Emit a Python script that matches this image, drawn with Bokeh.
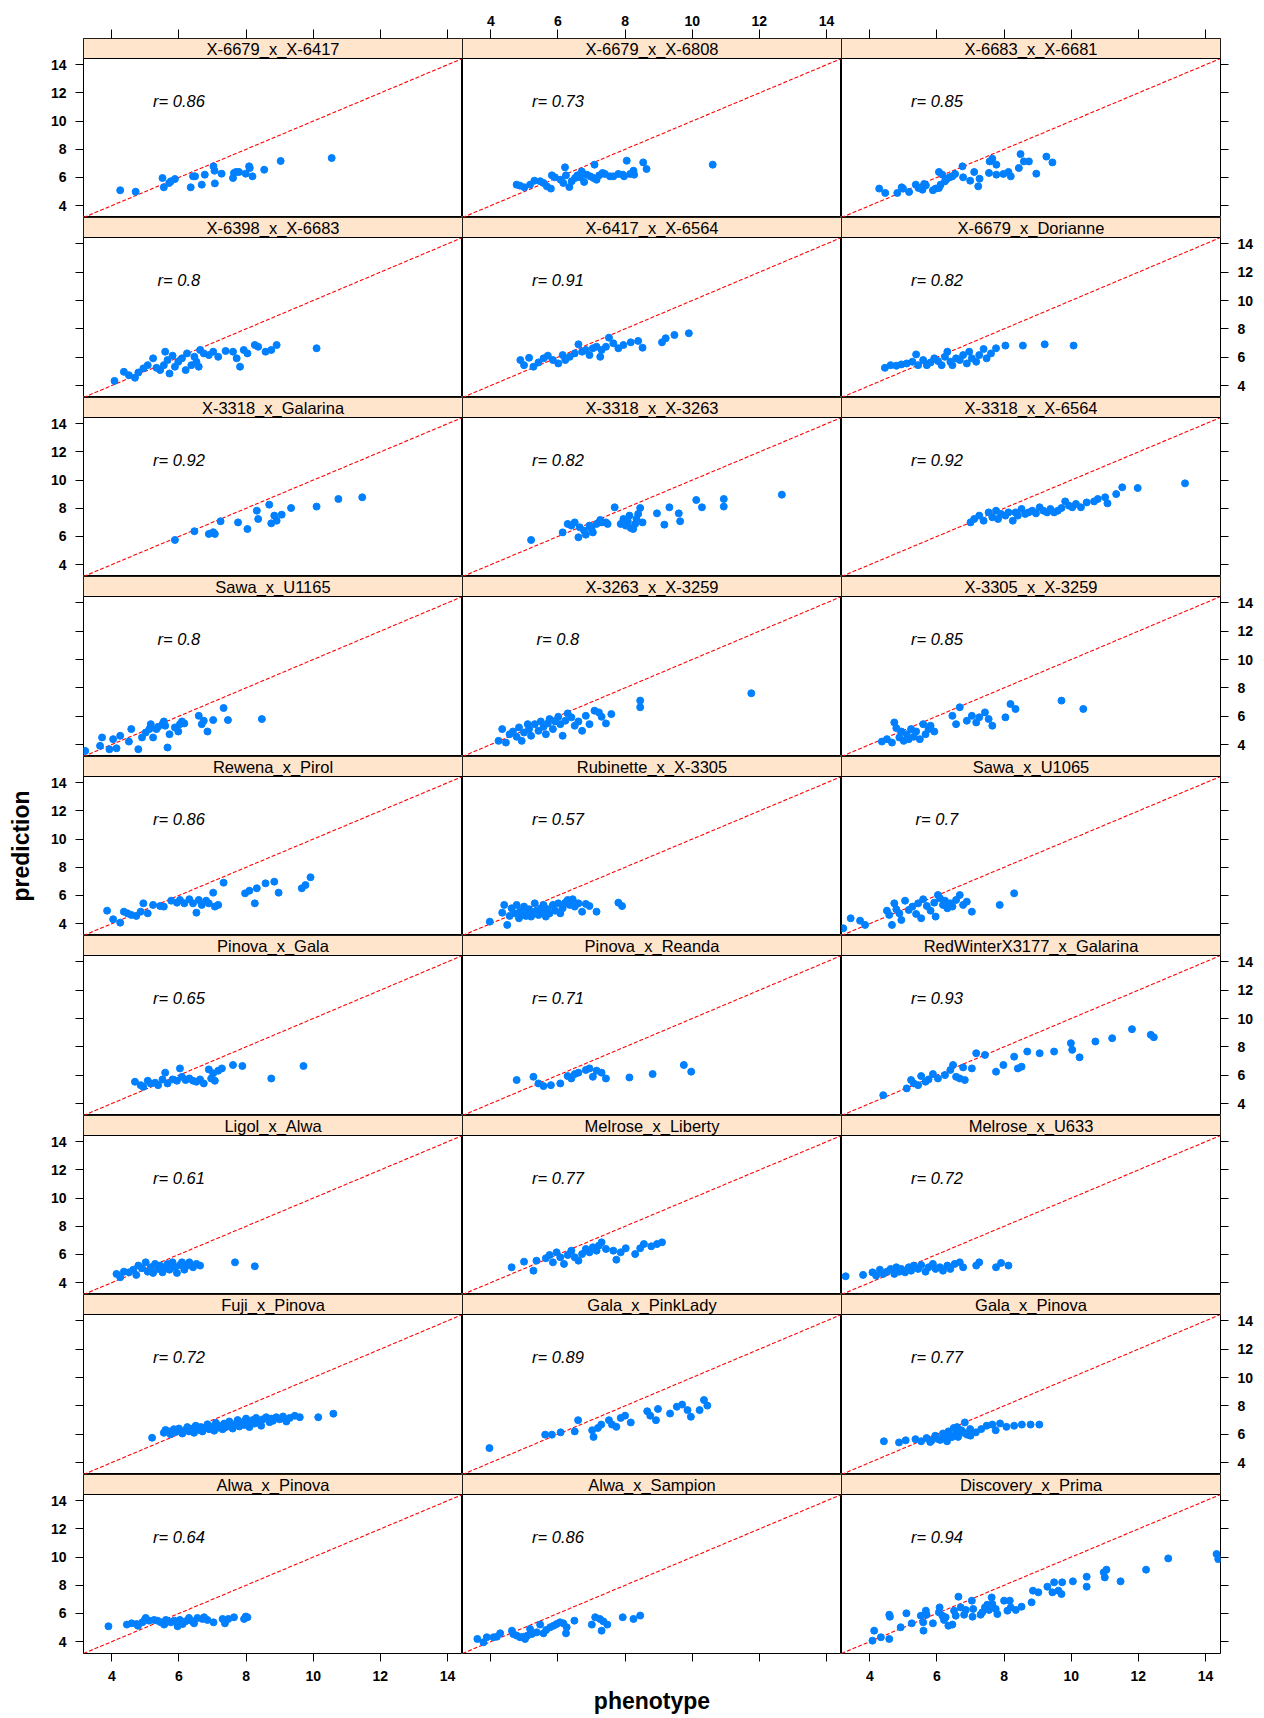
from bokeh.plotting import figure
from bokeh.layouts import column, row
from bokeh.models import LinearAxis, FixedTicker, Range1d, CustomJSTickFormatter
from bokeh.embed import file_html
from bokeh.resources import INLINE
from bokeh.core.properties import value

FONT = "Liberation Sans"

# ---------------- data ----------------
panel_names = [
    "X-6679_x_X-6417", "X-6679_x_X-6808", "X-6683_x_X-6681",
    "X-6398_x_X-6683", "X-6417_x_X-6564", "X-6679_x_Dorianne",
    "X-3318_x_Galarina", "X-3318_x_X-3263", "X-3318_x_X-6564",
    "Sawa_x_U1165", "X-3263_x_X-3259", "X-3305_x_X-3259",
    "Rewena_x_Pirol", "Rubinette_x_X-3305", "Sawa_x_U1065",
    "Pinova_x_Gala", "Pinova_x_Reanda", "RedWinterX3177_x_Galarina",
    "Ligol_x_Alwa", "Melrose_x_Liberty", "Melrose_x_U633",
    "Fuji_x_Pinova", "Gala_x_PinkLady", "Gala_x_Pinova",
    "Alwa_x_Pinova", "Alwa_x_Sampion", "Discovery_x_Prima",
]
r_values = ["0.86", "0.73", "0.85", "0.8", "0.91", "0.82", "0.92", "0.82", "0.92",
            "0.8", "0.8", "0.85", "0.86", "0.57", "0.7", "0.65", "0.71", "0.93",
            "0.61", "0.77", "0.72", "0.72", "0.89", "0.77", "0.64", "0.86", "0.94"]

axis_limits = [3.157, 14.447]
tick_values = [4, 6, 8, 10, 12, 14]

p01_x = [4.25,4.71,5.51,5.55,5.71,5.76,5.88,6.35,6.42,6.48,6.68,6.77,7.03,7.06,7.07,7.27,7.61,7.64,7.70,7.79,7.99,8.09,8.11,8.19,8.54,9.03,10.55]
p01_y = [5.09,4.99,5.96,5.30,5.61,5.73,5.89,5.30,6.08,6.08,5.49,6.20,6.79,6.48,5.58,6.27,5.96,6.32,6.39,6.39,6.27,6.79,6.67,6.08,6.55,7.17,7.38]
p02_x = [4.77,4.87,5.00,5.17,5.30,5.47,5.57,5.67,5.79,5.82,5.91,6.08,6.16,6.21,6.24,6.34,6.41,6.51,6.58,6.66,6.71,6.78,6.86,6.96,7.06,7.09,7.15,7.23,7.33,7.40,7.55,7.65,7.80,7.93,7.97,8.05,8.15,8.25,8.27,8.54,8.64,10.61]
p02_y = [5.49,5.42,5.30,5.49,5.77,5.73,5.61,5.37,5.21,6.15,6.01,5.84,5.61,6.72,6.15,5.32,5.73,5.96,6.15,6.01,6.43,5.68,6.20,6.08,5.96,6.91,5.84,6.15,6.32,6.25,6.08,6.08,6.25,6.20,6.08,7.19,6.25,6.48,6.20,7.07,6.60,6.91]
p03_x = [4.28,4.46,4.82,4.95,4.99,5.17,5.37,5.45,5.57,5.62,5.67,5.88,5.96,6.06,6.06,6.11,6.16,6.24,6.29,6.38,6.46,6.54,6.76,6.78,6.99,7.11,7.23,7.27,7.55,7.57,7.65,7.77,7.77,7.98,8.13,8.20,8.44,8.49,8.59,8.74,8.96,9.26,9.44]
p03_y = [5.21,4.90,4.90,5.30,5.21,4.97,5.49,5.25,5.13,5.54,5.44,5.09,5.21,6.39,5.25,5.49,6.20,5.73,5.89,6.01,6.08,6.25,6.79,6.01,5.77,6.39,5.37,5.91,6.32,7.14,7.33,6.91,6.20,6.25,6.39,6.08,6.67,7.66,7.14,7.14,6.27,7.48,7.07]
p04_x = [4.08,4.36,4.51,4.69,4.79,4.94,5.07,5.23,5.33,5.44,5.55,5.59,5.66,5.72,5.81,5.88,5.98,6.09,6.20,6.24,6.37,6.46,6.52,6.59,6.63,6.74,6.89,7.02,7.17,7.39,7.61,7.72,7.82,7.93,8.04,8.26,8.36,8.58,8.75,8.91,10.10]
p04_y = [4.33,4.97,4.73,4.55,4.92,5.21,5.44,5.92,5.25,5.09,5.44,6.39,5.80,4.85,6.11,5.33,5.68,5.92,5.09,6.27,5.44,6.03,5.68,5.33,6.51,6.27,6.15,6.39,6.03,6.44,6.39,5.92,5.33,6.51,6.27,6.86,6.74,6.39,6.51,6.86,6.63]
p05_x = [4.88,4.99,5.14,5.27,5.42,5.57,5.70,5.85,6.01,6.14,6.22,6.35,6.50,6.61,6.72,6.83,6.94,7.04,7.15,7.26,7.30,7.43,7.52,7.65,7.80,7.95,8.17,8.39,8.52,9.10,9.21,9.47,9.90]
p05_y = [5.80,5.44,5.96,5.33,5.63,5.92,6.11,5.80,5.56,6.15,5.80,6.03,6.27,6.91,6.39,6.51,6.15,6.63,6.74,6.03,6.51,6.74,7.38,6.98,6.63,6.86,7.05,7.15,6.67,7.05,7.34,7.57,7.69]
p06_x = [4.45,4.62,4.79,4.94,5.10,5.27,5.38,5.44,5.59,5.70,5.81,5.92,6.03,6.14,6.24,6.31,6.40,6.46,6.57,6.68,6.78,6.89,6.96,7.04,7.17,7.26,7.39,7.48,7.61,7.76,8.04,8.56,9.21,10.07]
p06_y = [5.25,5.44,5.40,5.49,5.56,5.68,6.20,5.44,5.80,5.44,5.63,5.92,5.73,5.44,6.03,6.39,5.68,5.44,5.92,5.80,6.15,5.56,6.39,5.92,5.68,6.15,6.58,5.92,6.27,6.63,6.82,6.82,6.91,6.82]
p07_x = [5.88,6.46,6.89,7.02,7.07,7.24,7.76,8.04,8.32,8.36,8.69,8.75,8.84,8.91,9.06,9.34,10.10,10.75,11.46]
p07_y = [5.75,6.37,6.18,6.30,6.18,7.08,7.00,6.53,7.83,7.24,8.26,6.93,7.48,7.12,7.55,8.02,8.12,8.66,8.78]
p08_x = [5.20,6.14,6.29,6.40,6.50,6.61,6.65,6.78,6.83,6.94,7.00,7.04,7.15,7.26,7.30,7.43,7.48,7.69,7.87,7.95,8.02,8.08,8.13,8.17,8.24,8.30,8.34,8.39,8.45,8.52,8.95,9.17,9.32,9.60,9.64,10.12,10.29,10.94,10.94,12.67]
p08_y = [5.75,6.29,6.89,6.77,7.00,5.94,6.65,6.41,6.13,6.77,6.53,6.29,6.89,7.17,7.00,7.00,6.89,8.07,6.89,7.24,6.77,7.08,7.48,6.60,6.53,6.89,7.24,7.60,8.02,7.00,7.64,6.84,8.07,7.64,7.08,8.59,8.07,8.66,8.12,8.97]
p09_x = [7.00,7.11,7.26,7.39,7.54,7.65,7.76,7.82,7.91,8.04,8.13,8.26,8.34,8.41,8.52,8.63,8.73,8.84,8.95,9.06,9.17,9.28,9.38,9.49,9.60,9.71,9.82,9.93,10.03,10.14,10.29,10.46,10.68,10.79,11.01,11.08,11.34,11.52,11.98,13.39]
p09_y = [7.00,7.24,7.48,7.12,7.71,7.36,7.83,7.24,7.60,7.48,7.71,7.12,7.71,7.48,7.95,7.60,7.71,7.83,7.64,8.07,7.83,7.71,7.95,7.71,7.83,8.02,8.49,8.19,8.07,8.31,8.07,8.42,8.49,8.66,8.78,8.35,9.01,9.49,9.44,9.77]
p10_x = [3.21,3.65,3.71,3.93,4.04,4.14,4.25,4.51,4.58,4.79,4.90,5.01,5.12,5.16,5.23,5.33,5.38,5.51,5.55,5.59,5.66,5.72,5.88,5.98,6.03,6.09,6.16,6.59,6.68,6.74,6.85,7.02,7.33,7.46,8.47]
p10_y = [3.55,3.91,4.50,3.67,4.38,3.74,4.62,4.21,5.09,3.67,4.50,4.85,5.09,5.44,4.50,5.09,5.25,5.44,5.63,5.33,3.79,4.73,5.21,4.92,5.44,5.63,5.49,6.03,5.44,5.68,4.92,5.73,6.58,5.73,5.80]
p11_x = [4.23,4.34,4.45,4.56,4.66,4.77,4.84,4.92,4.99,5.10,5.14,5.20,5.31,5.42,5.49,5.57,5.64,5.70,5.75,5.85,5.92,6.01,6.07,6.14,6.22,6.29,6.40,6.50,6.61,6.72,6.83,6.94,7.09,7.22,7.30,7.43,7.59,8.45,8.45,11.76]
p11_y = [4.26,5.09,4.14,4.73,4.92,4.55,5.21,4.26,4.85,5.44,5.09,4.62,5.44,4.97,5.63,5.25,4.73,5.49,5.80,5.09,5.63,5.96,5.44,4.62,5.68,6.20,5.92,5.33,5.63,4.97,6.03,5.44,6.39,6.27,5.96,5.49,6.15,7.10,6.63,7.62]
p12_x = [4.36,4.51,4.66,4.73,4.79,4.88,4.94,5.01,5.10,5.16,5.23,5.31,5.38,5.49,5.59,5.66,5.75,5.81,5.92,6.46,6.57,6.68,6.89,7.04,7.17,7.26,7.43,7.54,7.65,8.04,8.19,8.34,9.71,10.36]
p12_y = [4.21,4.38,4.14,5.56,5.16,4.50,4.92,4.26,4.73,4.38,5.09,4.55,4.92,4.38,5.44,4.73,5.09,5.33,4.92,6.03,5.44,6.63,5.68,6.03,5.56,5.92,6.27,5.80,5.33,5.92,6.86,6.51,7.10,6.51]
p13_x = [3.86,4.04,4.25,4.36,4.47,4.58,4.73,4.86,4.94,5.07,5.23,5.44,5.55,5.77,5.94,6.03,6.16,6.31,6.42,6.52,6.59,6.68,6.81,6.89,7.02,7.07,7.17,7.33,7.97,8.10,8.26,8.32,8.58,8.84,8.97,9.66,9.77,9.92]
p13_y = [4.92,4.31,4.07,4.85,4.73,4.62,4.55,4.85,5.44,4.73,5.33,5.25,5.21,5.63,5.49,5.68,5.44,5.73,5.44,4.78,5.68,5.33,5.63,5.44,6.20,5.21,5.33,6.91,6.15,6.34,5.44,6.51,6.86,6.98,6.20,6.51,6.74,7.29]
p14_x = [3.97,4.34,4.40,4.49,4.56,4.62,4.71,4.77,4.84,4.88,4.92,4.99,5.05,5.10,5.14,5.20,5.27,5.31,5.36,5.42,5.49,5.53,5.57,5.64,5.70,5.75,5.85,5.92,6.01,6.07,6.14,6.22,6.29,6.35,6.44,6.50,6.61,6.72,6.83,6.94,7.15,7.80,7.91]
p14_y = [4.14,4.78,5.33,3.91,4.55,5.09,4.73,5.33,4.38,4.92,4.62,5.21,4.55,4.85,5.02,4.50,4.73,5.44,4.92,4.62,5.09,4.78,5.33,4.50,5.02,4.73,5.33,4.92,5.44,4.73,5.09,5.49,5.68,5.33,5.73,5.21,5.44,4.85,5.40,5.25,4.85,5.49,5.25]
p15_x = [3.21,3.43,3.71,3.86,4.51,4.58,4.66,4.73,4.79,4.88,4.94,5.05,5.16,5.27,5.38,5.44,5.53,5.59,5.70,5.81,5.92,5.96,6.03,6.09,6.18,6.24,6.31,6.40,6.46,6.57,6.68,6.78,6.89,7.04,7.87,8.30]
p15_y = [3.67,4.38,4.21,3.91,4.92,4.62,3.91,5.44,5.02,4.73,4.26,5.63,4.97,5.21,4.69,5.44,4.38,5.73,5.25,4.92,5.49,4.50,6.03,5.80,5.33,5.63,5.09,5.44,5.21,5.68,6.03,5.33,5.56,4.85,5.33,6.15]
p16_x = [4.69,4.86,4.94,5.07,5.16,5.29,5.38,5.51,5.59,5.66,5.81,5.94,6.03,6.09,6.20,6.31,6.42,6.52,6.63,6.74,6.89,6.96,7.02,7.07,7.17,7.28,7.61,7.89,8.75,9.71]
p16_y = [5.54,5.30,5.18,5.61,5.42,5.47,5.30,5.70,6.18,5.42,5.70,5.61,6.48,5.89,5.66,5.77,5.61,5.54,5.70,5.42,6.41,5.77,6.13,5.61,6.32,6.48,6.72,6.65,5.77,6.65]
p17_x = [4.77,5.27,5.42,5.57,5.79,6.07,6.29,6.40,6.50,6.61,6.83,6.94,7.04,7.15,7.30,7.43,8.13,8.82,9.75,9.97]
p17_y = [5.66,5.89,5.42,5.23,5.30,5.42,5.94,5.77,6.08,6.18,6.37,6.48,5.89,6.32,6.18,5.77,5.84,6.08,6.72,6.25]
p18_x = [4.40,5.10,5.23,5.31,5.44,5.53,5.66,5.75,5.88,6.03,6.24,6.40,6.48,6.57,6.68,6.78,6.83,7.04,7.17,7.43,7.76,7.98,8.30,8.41,8.52,8.69,9.06,9.49,9.99,10.03,10.25,10.72,11.22,11.81,12.37,12.46]
p18_y = [4.59,5.07,5.66,5.42,5.30,5.94,5.54,5.70,6.08,5.77,6.01,6.37,6.72,5.89,5.77,6.55,5.66,6.48,7.55,7.43,6.25,6.72,7.31,6.48,6.60,7.67,7.55,7.67,8.26,7.79,7.26,8.38,8.61,9.25,8.85,8.68]
p19_x = [4.14,4.25,4.36,4.51,4.64,4.73,4.79,4.90,5.01,5.07,5.16,5.23,5.29,5.38,5.44,5.51,5.59,5.66,5.72,5.81,5.88,5.94,6.03,6.09,6.16,6.24,6.31,6.42,6.52,6.63,7.67,8.26]
p19_y = [4.62,4.38,4.78,4.73,4.92,4.55,5.21,5.02,5.44,4.78,5.09,4.69,5.33,4.97,5.21,4.73,5.09,5.33,4.92,5.44,5.09,4.69,5.25,5.44,4.92,5.21,5.44,5.09,5.33,5.21,5.44,5.16]
p20_x = [4.62,4.99,5.27,5.36,5.64,5.75,5.85,5.96,6.07,6.18,6.29,6.40,6.50,6.61,6.72,6.83,6.94,7.04,7.15,7.22,7.30,7.43,7.65,7.74,7.87,8.02,8.30,8.45,8.56,8.78,8.95,9.10]
p20_y = [5.09,5.49,4.85,5.56,5.73,5.96,5.44,6.15,5.80,5.33,5.96,6.27,5.80,5.56,6.03,6.39,6.15,6.51,6.27,6.63,6.86,6.39,6.27,5.63,6.15,6.44,6.03,6.44,6.74,6.58,6.74,6.86]
p21_x = [3.28,3.80,4.08,4.19,4.30,4.40,4.51,4.62,4.73,4.79,4.88,4.94,5.05,5.16,5.23,5.31,5.44,5.53,5.66,5.75,5.88,5.96,6.09,6.18,6.31,6.40,6.53,6.68,6.78,7.17,7.26,7.76,7.91,8.13]
p21_y = [4.45,4.55,4.73,4.50,4.92,4.62,4.78,4.97,4.62,5.09,4.78,4.97,4.73,5.09,4.85,5.21,4.97,5.25,4.78,5.09,5.33,4.97,5.09,4.85,5.21,4.97,5.33,5.44,5.09,5.21,5.44,5.09,5.40,5.21]
p22_x = [5.20,5.55,5.60,5.70,5.75,5.85,5.90,6.00,6.05,6.10,6.20,6.25,6.30,6.40,6.45,6.50,6.60,6.65,6.70,6.80,6.85,6.90,7.00,7.05,7.10,7.15,7.20,7.30,7.35,7.40,7.50,7.55,7.60,7.70,7.75,7.80,7.90,7.95,8.00,8.05,8.10,8.20,8.25,8.30,8.40,8.45,8.50,8.60,8.70,8.75,8.80,8.90,9.00,9.10,9.20,9.30,9.45,9.60,10.15,10.60]
p22_y = [5.75,6.10,6.30,6.20,6.00,6.35,6.15,6.40,6.20,6.05,6.30,6.50,6.20,6.40,6.10,6.60,6.30,6.50,6.20,6.45,6.70,6.35,6.55,6.25,6.80,6.45,6.60,6.35,6.75,6.50,6.90,6.60,6.40,6.75,7.00,6.55,6.85,6.65,7.10,6.80,6.50,7.00,6.75,7.15,6.90,6.60,7.05,7.20,6.85,7.10,6.95,7.20,7.05,7.25,6.90,7.15,7.30,7.20,7.20,7.45]
p23_x = [3.96,5.62,5.82,6.08,6.50,6.60,7.02,7.06,7.19,7.29,7.52,7.61,7.74,7.87,8.00,8.17,8.66,8.75,8.92,8.98,9.34,9.54,9.70,9.86,9.96,10.22,10.35,10.45]
p23_y = [5.02,5.97,5.97,6.13,6.20,6.99,6.28,5.81,6.44,6.68,6.99,6.68,6.52,7.15,7.31,6.83,7.62,7.31,6.99,7.78,7.46,7.94,8.09,7.70,7.23,7.70,8.41,8.02]
p24_x = [4.42,4.87,5.07,5.36,5.53,5.69,5.80,5.85,5.95,6.05,6.10,6.18,6.24,6.30,6.34,6.41,6.45,6.50,6.57,6.60,6.63,6.73,6.80,6.83,6.90,6.99,7.00,7.16,7.32,7.48,7.65,7.75,7.88,8.07,8.30,8.53,8.79,9.05]
p24_y = [5.50,5.42,5.57,5.65,5.50,5.73,5.45,5.57,5.89,5.65,5.60,6.05,5.73,5.50,6.20,5.89,5.80,6.44,6.05,6.50,5.81,6.28,6.10,6.83,5.97,6.36,5.90,6.13,6.36,6.60,6.68,6.28,6.76,6.52,6.60,6.68,6.68,6.68]
p25_x = [3.90,4.45,4.59,4.74,4.78,4.91,4.98,5.01,5.11,5.26,5.36,5.46,5.56,5.61,5.66,5.76,5.86,5.96,6.03,6.11,6.20,6.30,6.40,6.45,6.55,6.70,6.75,6.85,7.03,7.30,7.37,7.47,7.64,7.94,7.99,8.04]
p25_y = [5.09,5.21,5.30,5.25,5.13,5.37,5.54,5.68,5.49,5.54,5.49,5.37,5.21,5.54,5.44,5.37,5.49,5.09,5.54,5.25,5.44,5.68,5.44,5.30,5.68,5.61,5.73,5.54,5.37,5.61,5.30,5.61,5.73,5.61,5.78,5.73]
p26_x = [3.60,3.78,3.88,4.08,4.18,4.28,4.63,4.67,4.77,4.87,4.97,5.02,5.09,5.17,5.22,5.37,5.47,5.57,5.65,5.77,5.87,5.96,6.06,6.16,6.24,6.26,6.49,7.01,7.11,7.25,7.30,7.35,7.47,7.93,8.25,8.45]
p26_y = [4.19,3.95,4.31,4.31,4.35,4.59,4.78,4.54,4.43,4.31,4.35,4.19,4.43,4.90,4.54,4.66,5.21,4.59,4.83,5.02,5.13,5.25,5.37,5.30,4.59,5.02,5.49,5.21,5.73,5.61,4.78,5.44,5.21,5.73,5.61,5.85]
p27_x = [4.08,4.13,4.33,4.58,4.58,4.60,4.92,5.09,5.25,5.52,5.59,5.60,5.67,5.69,5.88,6.06,6.08,6.16,6.21,6.26,6.34,6.46,6.51,6.56,6.64,6.71,6.81,6.86,7.04,7.06,7.08,7.30,7.35,7.43,7.50,7.55,7.63,7.65,7.75,7.80,8.00,8.10,8.17,8.20,8.35,8.52,8.82,8.86,9.02,9.29,9.44,9.49,9.62,9.71,9.73,10.05,10.46,10.46,10.97,11.00,11.05,11.47,12.23,12.89,14.33,14.38]
p27_y = [4.07,4.78,4.31,4.19,5.91,5.77,5.02,6.01,5.30,5.84,5.37,4.78,6.20,5.91,5.30,6.08,6.43,5.84,5.54,5.73,5.13,5.21,6.20,5.84,7.19,6.43,5.91,6.25,6.91,5.77,6.32,5.91,6.08,6.43,6.62,6.25,7.14,6.67,6.32,5.96,6.91,6.20,6.91,6.43,6.25,6.48,6.79,7.62,7.50,7.90,7.50,8.21,7.62,7.38,8.21,8.28,8.61,7.90,8.92,8.56,9.11,8.28,9.11,9.91,10.22,9.86]

phenotype = [p01_x, p02_x, p03_x, p04_x, p05_x, p06_x, p07_x, p08_x, p09_x,
             p10_x, p11_x, p12_x, p13_x, p14_x, p15_x, p16_x, p17_x, p18_x,
             p19_x, p20_x, p21_x, p22_x, p23_x, p24_x, p25_x, p26_x, p27_x]
prediction = [p01_y, p02_y, p03_y, p04_y, p05_y, p06_y, p07_y, p08_y, p09_y,
              p10_y, p11_y, p12_y, p13_y, p14_y, p15_y, p16_y, p17_y, p18_y,
              p19_y, p20_y, p21_y, p22_y, p23_y, p24_y, p25_y, p26_y, p27_y]

# ---------------- layout ----------------
NCOL, NROW = 3, 9
FRAME_W = 379
FRAME_H = [179, 180, 179, 180, 179, 180, 179, 180, 179]
STRIP_H = 20
BORDER_L, BORDER_R, BORDER_T, BORDER_B = 83, 43, 38, 64


def blank_formatter():
    return CustomJSTickFormatter(code="return '';")


def make_axis(show_labels, tick_out=8, standoff=9):
    ax = LinearAxis(ticker=FixedTicker(ticks=tick_values))
    ax.axis_line_color = None
    ax.major_tick_in = 0
    ax.major_tick_out = tick_out
    ax.major_tick_line_color = "black"
    ax.major_tick_line_width = 1
    ax.minor_tick_line_color = None
    ax.major_label_text_font = FONT
    ax.major_label_text_font_style = "bold"
    ax.major_label_text_font_size = "14px"
    ax.major_label_text_color = "black"
    ax.major_label_standoff = standoff
    ax.axis_label_text_color = "black"
    if not show_labels:
        ax.formatter = blank_formatter()
    return ax


rows = []
for r in range(NROW):
    figs = []
    for c in range(NCOL):
        i = r * NCOL + c
        fh = FRAME_H[r]
        panel_h = fh - STRIP_H
        lo, hi = axis_limits
        y_top = hi + STRIP_H * (hi - lo) / panel_h

        lb = BORDER_L if c == 0 else 0
        rb = BORDER_R if c == NCOL - 1 else 0
        tb = BORDER_T if r == 0 else 0
        bb = BORDER_B if r == NROW - 1 else 0

        p = figure(width=FRAME_W + lb + rb, height=fh + tb + bb,
                   x_range=Range1d(lo, hi), y_range=Range1d(lo, y_top),
                   output_backend="svg", toolbar_location=None,
                   x_axis_location=None, y_axis_location=None, title=None,
                   min_border_left=lb, min_border_right=rb,
                   min_border_top=tb, min_border_bottom=bb)
        p.outline_line_color = "black"
        p.outline_line_width = 1
        p.background_fill_color = "white"
        p.border_fill_color = "white"
        for g in p.renderers:
            pass
        for grid in list(p.center):
            grid.visible = False

        # identity line
        p.line(axis_limits, axis_limits, line_color="#FF0000", line_width=1.1,
               line_dash="4 2")
        # points
        n = min(len(phenotype[i]), len(prediction[i]))
        p.scatter(phenotype[i][:n], prediction[i][:n], size=7, marker="circle",
                  fill_color="#0080FF", line_color="#0080FF")
        # correlation label
        p.text(x=[6.0], y=[11.45], text=["r= " + r_values[i]],
               text_font=value(FONT), text_font_style="italic",
               text_font_size="16.5px", text_align="center",
               text_baseline="middle", text_color="black")
        # strip
        p.quad(left=[lo], right=[hi], bottom=[hi], top=[y_top],
               fill_color="#FFE5CC", line_color="black", line_width=1)
        p.text(x=[(lo + hi) / 2], y=[(hi + y_top) / 2], text=[panel_names[i]],
               text_font=value(FONT), text_font_size="16.5px",
               text_align="center", text_baseline="middle", text_color="black")

        # axes (lattice alternating style)
        if c == 0:
            ax = make_axis(show_labels=(r % 2 == 0))
            if r == 4:
                ax.axis_label = "prediction"
                ax.axis_label_text_font = FONT
                ax.axis_label_text_font_style = "bold"
                ax.axis_label_text_font_size = "23px"
                ax.axis_label_standoff = 14
            p.add_layout(ax, "left")
        if c == NCOL - 1:
            ax = make_axis(show_labels=(r % 2 == 1))
            p.add_layout(ax, "right")
        if r == 0:
            ax = make_axis(show_labels=(c == 1), tick_out=9, standoff=4)
            p.add_layout(ax, "above")
        if r == NROW - 1:
            ax = make_axis(show_labels=(c != 1))
            if c == 1:
                ax.axis_label = "phenotype"
                ax.axis_label_text_font = FONT
                ax.axis_label_text_font_style = "bold"
                ax.axis_label_text_font_size = "23px"
                ax.axis_label_standoff = 26
            p.add_layout(ax, "below")
        figs.append(p)
    rows.append(row(*figs, spacing=0))

layout = column(*rows, spacing=0)
open("out.html", "w").write(file_html(layout, INLINE))
